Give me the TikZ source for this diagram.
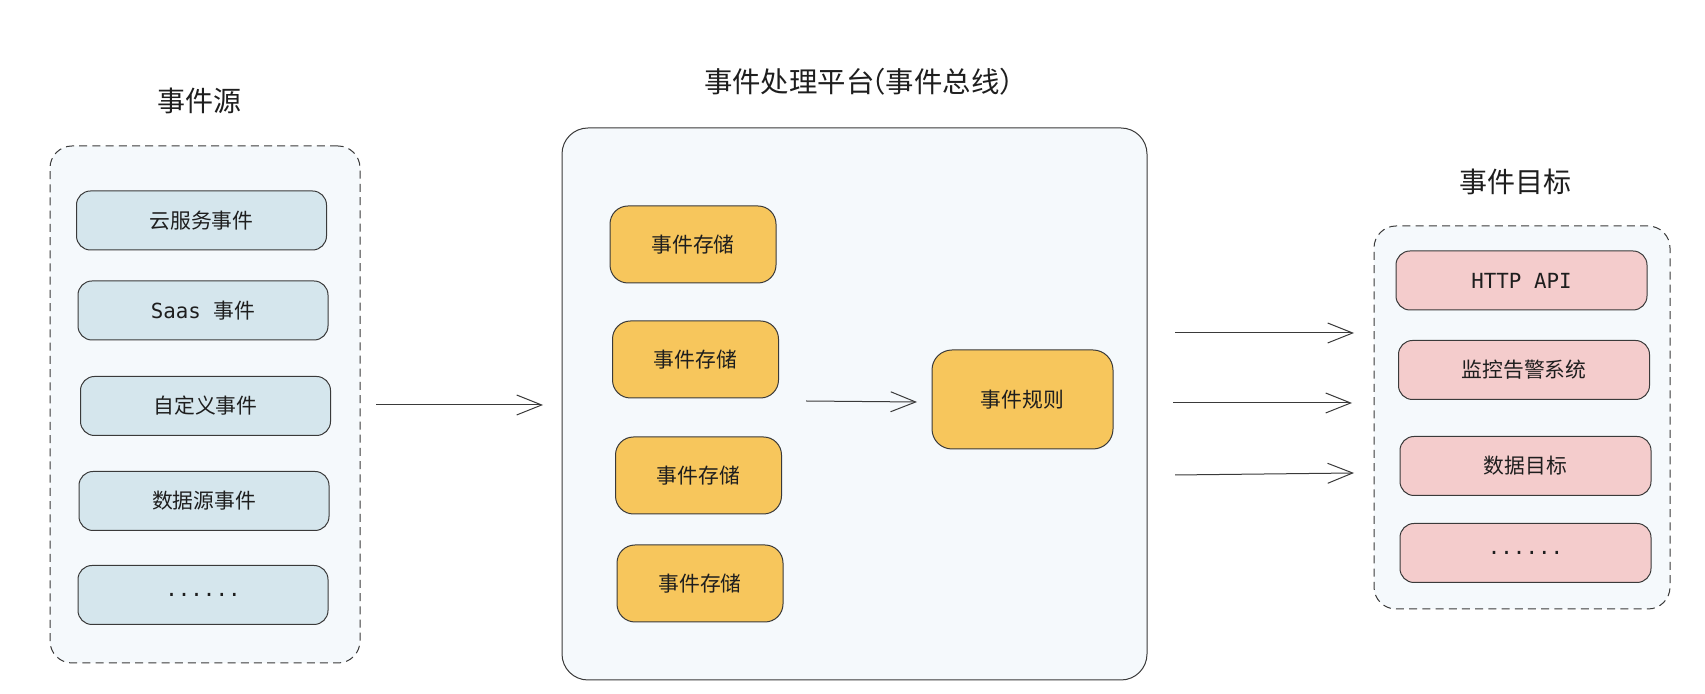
\documentclass[tikz,border=0pt]{standalone}
\usepackage{fontspec}
\setmainfont{Noto Sans CJK SC}
\newfontfamily\cjk{Noto Sans CJK SC}
\newfontfamily\monof{DejaVu Sans Mono}
\usetikzlibrary{arrows.meta}
\definecolor{ink}{HTML}{1E1E1E}
\definecolor{edge}{HTML}{3A3A3A}
\definecolor{panelbg}{HTML}{F5F9FC}
\definecolor{srcfill}{HTML}{D5E6ED}
\definecolor{storefill}{HTML}{F7C65C}
\definecolor{tgtfill}{HTML}{F4CCCC}
\tikzset{
  x=0.5pt, y=-0.5pt,
  every node/.style={text=ink, font=\cjk\fontsize{10.4pt}{12pt}\selectfont},
  panel/.style={draw=edge, line width=0.5pt, fill=panelbg, rounded corners=11pt, dash pattern=on 4pt off 2.6pt},
  bigpanel/.style={draw=edge, line width=0.5pt, fill=panelbg, rounded corners=13pt},
  srcbox/.style={draw=edge, line width=0.5pt, fill=srcfill, rounded corners=7pt, minimum width=125pt, minimum height=29.5pt, inner sep=0pt},
  tgtbox/.style={draw=edge, line width=0.5pt, fill=tgtfill, rounded corners=7pt, minimum width=125.5pt, minimum height=29.5pt, inner sep=0pt},
  storebox/.style={draw=edge, line width=0.5pt, fill=storefill, rounded corners=9pt, minimum width=83pt, minimum height=38.5pt, inner sep=0pt},
  rulebox/.style={draw=edge, line width=0.5pt, fill=storefill, rounded corners=10pt, minimum width=90.5pt, minimum height=49.5pt, inner sep=0pt},
  title/.style={font=\cjk\fontsize{14pt}{16pt}\selectfont},
  flow/.style={draw=edge, line width=0.5pt, -{Straight Barb[length=12.5pt, width=10pt, line width=0.5pt]}},
}
\begin{document}
\begin{tikzpicture}
\useasboundingbox[fill=white] (0,0) rectangle (1705,694);

% titles
\node[title] (tsrc) at (199,101) {事件源};
\node[title, font=\cjk\fontsize{14.2pt}{16pt}\selectfont] (tbus) at (866,82) {事件处理平台\kern-0.6em（事件总线）};
\node[title] (ttgt) at (1515,182) {事件目标};

% panels
\node[panel, minimum width=155pt, minimum height=258.5pt] (srcpanel) at (205,404.5) {};
\node[bigpanel, minimum width=292.5pt, minimum height=276pt] (buspanel) at (854.5,404) {};
\node[panel, minimum width=148pt, minimum height=191.5pt] (tgtpanel) at (1522,417.5) {};

% sources
\node[srcbox] (s1) at (201.5,220.5) {云服务事件};
\node[srcbox] (s2) at (203,310.5) {{\monof Saas }事件};
\node[srcbox] (s3) at (205.5,406) {自定义事件};
\node[srcbox] (s4) at (204,501) {数据源事件};
\node[srcbox] (s5) at (203,595) {{\monof ......}};

% storage
\node[storebox] (st1) at (693,244.5) {事件存储};
\node[storebox] (st2) at (695.5,359.5) {事件存储};
\node[storebox] (st3) at (698.5,475.5) {事件存储};
\node[storebox] (st4) at (700,583.5) {事件存储};
\node[rulebox] (rule) at (1022.5,399.5) {事件规则};

% targets
\node[tgtbox] (t1) at (1521.5,280.5) {{\monof HTTP API}};
\node[tgtbox] (t2) at (1524,370) {监控告警系统};
\node[tgtbox] (t3) at (1525.5,466) {数据目标};
\node[tgtbox] (t4) at (1525.5,553) {{\monof ......}};

% arrow endpoints
\coordinate (a1s) at (376,405);
\coordinate (a1e) at (543,405);
\coordinate (a2s) at (806,401);
\coordinate (a2e) at (917,402);
\coordinate (a3s) at (1175,333);
\coordinate (a3e) at (1354,333);
\coordinate (a4s) at (1173,403);
\coordinate (a4e) at (1352,403);
\coordinate (a5s) at (1175,475);
\coordinate (a5e) at (1354,473);

\draw[flow] (a1s) -- (a1e);
\draw[flow] (a2s) -- (a2e);
\draw[flow] (a3s) -- (a3e);
\draw[flow] (a4s) -- (a4e);
\draw[flow] (a5s) -- (a5e);
\end{tikzpicture}
\end{document}
